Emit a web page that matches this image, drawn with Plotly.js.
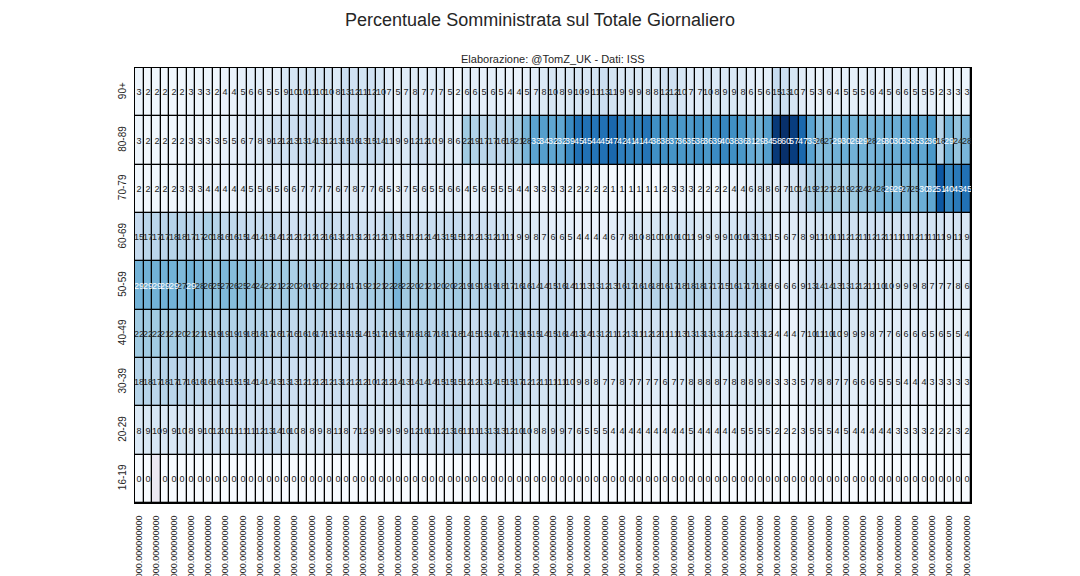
<!DOCTYPE html>
<html><head><meta charset="utf-8">
<script src="https://cdn.plot.ly/plotly-3.0.1.min.js"></script>
<style>html,body{margin:0;padding:0;background:#fff}#chart{width:1080px;height:576px}</style>
</head><body><div id="chart"></div>
<script>
// ---- data ----
const ageGroups = ['90+','80-89','70-79','60-69','50-59','40-49','30-39','20-29','16-19'];

const r90 = [3,2,2,2,2,2,3,3,3,2,4,4,5,6,6,5,5,9,10,10,11,10,10,8,13,12,11,12,10,7,5,7,8,7,7,7,5,2,6,6,5,6,5,4,4,5,7,8,10,8,9,10,9,11,13,11,9,9,9,8,8,12,12,10,7,7,10,8,9,9,8,6,5,6,15,13,10,7,5,3,6,4,5,5,5,6,4,5,6,6,5,5,5,2,3,3,3];
const r80 = [3,2,2,2,2,2,3,3,3,3,5,5,6,7,8,9,12,12,13,13,14,13,12,13,15,16,13,15,14,11,9,9,12,12,10,9,8,6,22,19,17,17,16,18,21,28,33,34,32,32,39,45,45,44,45,47,42,41,41,44,38,38,37,36,35,38,36,39,40,38,36,31,29,34,58,60,57,47,33,26,27,29,30,29,29,28,29,30,30,33,35,32,36,18,29,24,28];
const r70 = [2,2,2,2,2,3,3,3,4,4,4,4,4,5,5,6,5,6,6,7,7,7,7,6,7,8,7,7,6,5,3,7,5,6,5,5,6,6,4,5,6,5,5,5,4,4,3,3,3,3,2,2,2,2,2,1,1,1,1,1,1,2,3,3,3,2,2,2,2,4,4,6,8,8,6,7,10,14,19,21,21,22,19,22,24,24,28,29,29,27,25,30,32,51,40,43,45];
const r60 = [15,17,17,17,18,18,17,17,20,18,16,16,15,14,14,15,14,12,12,12,12,12,16,13,12,13,12,12,12,17,13,15,12,12,14,13,15,15,12,12,13,12,11,11,9,9,8,7,6,6,5,4,4,4,4,6,7,8,10,8,10,10,10,10,11,9,9,9,9,10,10,13,13,11,5,6,7,8,9,11,10,11,12,12,11,12,12,11,11,11,12,11,11,11,9,11,9];
const r50 = [29,29,29,29,29,27,29,28,26,25,27,26,25,24,24,22,21,22,20,20,19,20,21,21,18,17,19,21,21,22,28,22,20,21,21,20,20,22,19,19,18,19,18,17,16,16,14,14,15,16,14,11,13,13,12,13,16,17,16,16,18,16,17,18,18,18,17,17,15,16,17,17,18,16,6,6,6,9,13,14,14,13,13,12,12,11,10,10,9,9,9,8,7,7,7,8,6];
const r40 = [22,22,22,21,21,20,21,21,19,19,19,19,19,18,18,17,16,17,16,16,16,17,15,15,15,15,14,15,17,16,19,17,18,18,17,18,17,18,14,15,15,16,17,17,19,15,15,14,15,16,14,13,14,13,12,11,12,13,11,12,12,11,11,13,13,13,13,13,12,12,13,13,13,12,4,4,4,7,10,11,10,10,9,9,9,8,7,7,6,6,6,6,5,6,5,5,4];
const r30 = [18,18,17,18,17,17,16,16,16,16,15,15,15,14,14,14,13,13,13,12,12,12,12,13,12,12,12,10,12,12,14,13,14,14,14,15,15,15,12,12,13,14,15,15,17,12,12,11,11,11,10,9,8,8,7,7,8,7,7,7,7,6,7,7,8,8,8,8,7,8,8,8,9,8,3,3,3,5,7,8,8,7,7,6,6,6,5,5,5,4,4,4,3,3,3,3,3];
const r20 = [8,9,10,9,9,10,8,9,10,12,10,11,11,11,12,13,14,10,10,8,8,9,8,11,8,7,12,9,9,9,9,9,12,10,11,12,13,16,11,11,13,13,13,12,10,10,8,8,9,9,7,6,5,5,5,4,4,4,4,4,4,4,4,4,5,4,4,4,4,4,5,5,5,5,2,2,2,3,5,5,5,4,5,4,4,4,4,4,3,3,3,3,2,2,2,3,2];
const r16 = [0,0,null,0,0,0,0,0,0,0,0,0,0,0,0,0,0,0,0,0,0,0,0,0,0,0,0,0,0,0,0,0,0,0,0,0,0,0,0,0,0,0,0,0,0,0,0,0,0,0,0,0,0,0,0,0,0,0,0,0,0,0,0,0,0,0,0,0,0,0,0,0,0,0,0,0,0,0,0,0,0,0,0,0,0,0,0,0,0,0,0,0,0,0,0,0,0];

// day tick labels (timestamps in ns, as printed by the original chart)
const firstDayMs = Date.UTC(2020, 11, 27);
const dayCount = r90.length;
const dayLabels = [];
for (let i = 0; i < dayCount; i++) dayLabels.push(String(firstDayMs + i * 86400000) + '000000.000000000');

// ---- styling / helpers ----
const bluesStops = ['#f7fbff','#deebf7','#c6dbef','#9ecae1','#6baed6','#4292c6','#2171b5','#08519c','#08306b'];
const zMin = 0, zMax = 60;
const colorscale = bluesStops.map((c, i) => [i / (bluesStops.length - 1), c]);

function hexToRgb(h){ return [parseInt(h.slice(1,3),16), parseInt(h.slice(3,5),16), parseInt(h.slice(5,7),16)]; }
function colorAt(v){
  let t = (v - zMin) / (zMax - zMin); t = Math.max(0, Math.min(1, t));
  const p = t * (bluesStops.length - 1), i = Math.min(Math.floor(p), bluesStops.length - 2), f = p - i;
  const a = hexToRgb(bluesStops[i]), b = hexToRgb(bluesStops[i+1]);
  return a.map((x, k) => x + (b[k] - x) * f);
}
function luminance(rgb){
  const c = rgb.map(x => { x /= 255; return x <= 0.03928 ? x / 12.92 : Math.pow((x + 0.055) / 1.055, 2.4); });
  return 0.2126 * c[0] + 0.7152 * c[1] + 0.0722 * c[2];
}

const z = [r90, r80, r70, r60, r50, r40, r30, r20, r16];
const xIdx = dayLabels.map((_, i) => i);
const yIdx = ageGroups.map((_, i) => i);

const isLight = v => luminance(colorAt(v)) > 0.408;
const darkText = z.map(row => row.map(v => (v === null ? '' : (isLight(v) ? String(v) : ''))));
const lightText = z.map(row => row.map(v => (v === null ? '' : (isLight(v) ? '' : String(v)))));
const missing = z.map(row => row.map(v => (v === null ? 1 : null)));

const gap = 1.3;
const FONT = 'Liberation Sans, Arial, sans-serif';
const traces = [
  { type: 'heatmap', x: xIdx, y: yIdx, z: missing, colorscale: [[0,'#ebe8f2'],[1,'#ebe8f2']],
    showscale: false, xgap: gap, ygap: gap, hoverinfo: 'skip' },
  { type: 'heatmap', x: xIdx, y: yIdx, z: z, zmin: zMin, zmax: zMax, colorscale: colorscale,
    showscale: false, xgap: gap, ygap: gap, text: darkText, texttemplate: '%{text}',
    textfont: { family: FONT, size: 9, color: '#262626' }, hoverinfo: 'skip' },
  { type: 'heatmap', x: xIdx, y: yIdx, z: z, zmin: zMin, zmax: zMax,
    colorscale: [[0,'rgba(0,0,0,0)'],[1,'rgba(0,0,0,0)']],
    showscale: false, xgap: gap, ygap: gap, text: lightText, texttemplate: '%{text}',
    textfont: { family: FONT, size: 9, color: '#ffffff' }, hoverinfo: 'skip' }
];

const tickVals = xIdx.filter(i => i % 2 === 0);
const layout = {
  width: 1080, height: 576,
  margin: { l: 135, r: 109, t: 68, b: 73 },
  paper_bgcolor: '#ffffff', plot_bgcolor: '#000000',
  font: { family: FONT, color: '#262626' },
  title: { text: 'Percentuale Somministrata sul Totale Giornaliero', xref: 'container', x: 0.5, xanchor: 'center',
           yref: 'container', y: 0.965, yanchor: 'middle', font: { family: FONT, size: 18, color: '#262626' } },
  xaxis: { type: 'linear', range: [-0.5, dayCount - 0.5], tickmode: 'array', tickvals: tickVals,
           ticktext: tickVals.map(i => dayLabels[i]),
           tickangle: -90, tickfont: { family: FONT, size: 9, color: '#262626' }, showgrid: false, zeroline: false,
           ticks: 'outside', ticklen: 8, tickcolor: 'rgba(0,0,0,0)',
           showline: true, mirror: true, linecolor: '#000000', linewidth: 1, fixedrange: true },
  yaxis: { type: 'linear', range: [ageGroups.length - 0.5, -0.5], tickmode: 'array', tickvals: yIdx, ticktext: ageGroups,
           tickangle: -90, tickfont: { family: FONT, size: 10, color: '#262626' }, showgrid: false, zeroline: false,
           ticks: 'outside', ticklen: 4, tickcolor: 'rgba(0,0,0,0)',
           showline: true, mirror: true, linecolor: '#000000', linewidth: 1, fixedrange: true },
  annotations: [{ text: 'Elaborazione: @TomZ_UK - Dati: ISS', xref: 'paper', yref: 'paper', x: 0.5, y: 1,
                  xanchor: 'center', yanchor: 'bottom', yshift: 1, showarrow: false,
                  font: { family: FONT, size: 11, color: '#262626' } }]
};

Plotly.newPlot('chart', traces, layout, { staticPlot: true, displayModeBar: false });
</script>
</body></html>
